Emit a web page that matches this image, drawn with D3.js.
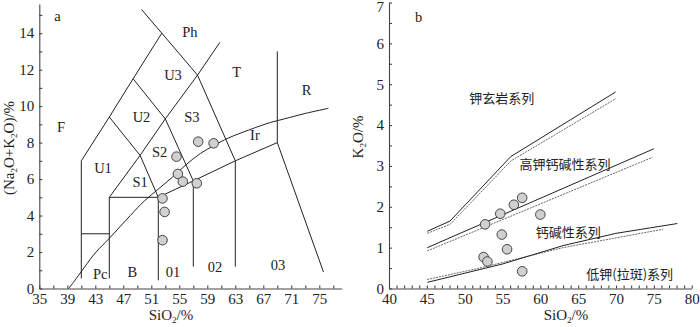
<!DOCTYPE html>
<html><head><meta charset="utf-8">
<script src="https://cdn.jsdelivr.net/npm/d3@7"></script>
<style>
body{margin:0;background:#fff;}
svg{display:block;}
text{font-family:"Liberation Serif","Times New Roman",serif;fill:#222;}
.cjk{font-family:"Noto Sans CJK SC",sans-serif;}
</style></head>
<body>
<script>
// ---- Chart a (TAS) data ----
const tasXTicks = [35,37,39,41,43,45,47,49,51,53,55,57,59,61,63,65,67,69,71,73,75,77];
const tasXLabels = [35,39,43,47,51,55,59,63,67,71,75];
const tasYTicks = [0,1,2,3,4,5,6,7,8,9,10,11,12,13,14,15];
const tasYLabels = [0,2,4,6,8,10,12,14];
const tasBoundaries = [
  [[41,0.55],[41,7],[45,9.4],[48.4,11.5],[52.5,14]],
  [[49.6,15.3],[52.5,14],[57.6,11.7],[63,7]],
  [[45,9.4],[49.4,7.3],[52,5]],
  [[48.4,11.5],[53,9.3],[57,5.9]],
  [[45,0.55],[45,5],[49.4,7.3],[53,9.3],[57.6,11.7],[60.8,13.5]],
  [[41,3],[45,3]],
  [[45,5],[52,5]],
  [[52,0.45],[52,5],[57,5.9],[63,7],[69,8]],
  [[57,1.2],[57,5.9]],
  [[63,1.2],[63,7]],
  [[69,13],[69,8],[75.6,0.9]]
];
const irvineCurve = [[39.2,0],[40,0.4],[43,1.95],[45,2.75],[48,4],[50,4.8],[52,5.45],[54,6.1],[56,6.8],[58,7.4],[60,7.85],[62,8.25],[65,8.7],[68,9.1],[70,9.3],[73,9.6],[76.3,9.88]];
const tasLabelNames = ["F","Ph","U3","T","R","U2","S3","Ir","S2","U1","S1","Pc","B","01","02","03"];
const tasLabelX = [38.1,56.5,54.1,63.2,73.2,49.6,56.8,65.8,52.2,44.1,49.4,43.7,48.3,54.1,60.1,69.1];
const tasLabelY = [8.87,14.05,11.7,11.9,10.9,9.4,9.4,8.4,7.5,6.6,5.85,0.8,0.9,0.9,1.2,1.3];
const tasSiO2 = [57.7,59.9,54.6,54.8,55.5,57.5,52.6,52.9,52.6];
const tasAlk  = [8.05,7.96,7.23,6.28,5.86,5.77,4.94,4.2,2.65];

// ---- Chart b (K2O-SiO2) data ----
const kXTicks = d3.range(40,81,1);
const kXLabels = [40,45,50,55,60,65,70,75,80];
const kYTicks = [0,0.5,1,1.5,2,2.5,3,3.5,4,4.5,5,5.5,6,6.5,7];
const kYLabels = [0,1,2,3,4,5,6,7];
const kSolidLines = [
  [[45.06,1.4],[48.06,1.65],[56.1,3.23],[69.95,4.81]],
  [[45.06,1.0],[75,3.42]],
  [[45.06,0.15],[55,0.6],[63,1.05],[70,1.35],[78.1,1.59]]
];
const kDashedLines = [
  [[45.06,1.35],[48.06,1.57],[56.1,3.12],[70,4.65]],
  [[45.06,0.92],[74.8,3.21]],
  [[45.06,0.22],[52,0.5],[63,1.0],[76.2,1.45]]
];
const kLabelNames = ["钾玄岩系列","高钾钙碱性系列","钙碱性系列","低钾(拉斑)系列"];
const kLabelX = [54.9,63.25,63.7,71.8];
const kLabelY = [4.64,3.03,1.37,0.35];
const kSiO2 = [52.7,54.7,56.5,57.6,60.0,54.9,55.6,52.5,53.0,57.6];
const kK2O  = [1.57,1.83,2.05,2.22,1.81,1.32,0.96,0.77,0.66,0.42];

const svg = d3.select("body").append("svg").attr("width",700).attr("height",327);

const axisColor = "#444";
function drawAxes(x, y, xt, xl, yt, yl, xPad, yPad) {
  const gx = svg.append("g").attr("transform",`translate(0,${y.range()[0]})`)
    .call(d3.axisBottom(x).tickValues(xt).tickSize(-3).tickSizeOuter(0).tickPadding(xPad)
      .tickFormat(d => xl.includes(d) ? d : ""));
  const gy = svg.append("g").attr("transform",`translate(${x.range()[0]},0)`)
    .call(d3.axisLeft(y).tickValues(yt).tickSize(-3).tickSizeOuter(0).tickPadding(yPad)
      .tickFormat(d => yl.includes(d) ? d : ""));
  [gx,gy].forEach(g=>{
    g.selectAll("path,line").attr("stroke",axisColor).attr("stroke-width",1.1);
    g.selectAll("text").attr("font-family","Liberation Serif, serif").attr("font-size",15).attr("fill","#222");
  });
  // keep a label that would sit on the top edge fully visible
  gy.selectAll(".tick text").each(function(){
    const yy = y(d3.select(this.parentNode).datum());
    if (yy < 7) d3.select(this).attr("transform",`translate(0,${7-yy})`);
  });
}

// ---- Chart a ----
const ax = d3.scaleLinear().domain([35,78.2]).range([39.3,341.7]);
const ay = d3.scaleLinear().domain([0,15.6]).range([288.5,4]);
drawAxes(ax, ay, tasXTicks, tasXLabels, tasYTicks, tasYLabels, 5, 5);

const lineA = d3.line().x(d=>ax(d[0])).y(d=>ay(d[1]));
svg.append("g").selectAll("path").data(tasBoundaries).join("path")
  .attr("d", lineA).attr("fill","none").attr("stroke","#222").attr("stroke-width",1);
svg.append("path").datum(irvineCurve)
  .attr("d", d3.line().x(d=>ax(d[0])).y(d=>ay(d[1])).curve(d3.curveCatmullRom))
  .attr("fill","none").attr("stroke","#222").attr("stroke-width",1);
svg.append("g").selectAll("text").data(tasLabelNames).join("text")
  .attr("x",(d,i)=>ax(tasLabelX[i])).attr("y",(d,i)=>ay(tasLabelY[i]))
  .attr("dy","0.35em").attr("text-anchor","middle").attr("font-size",14.5).text(d=>d);
svg.append("g").selectAll("circle").data(tasSiO2).join("circle")
  .attr("cx",d=>ax(d)).attr("cy",(d,i)=>ay(tasAlk[i])).attr("r",4.8)
  .attr("fill","#d0d0d0").attr("stroke","#333").attr("stroke-width",0.9);
svg.append("text").attr("x",ax(37.6)).attr("y",ay(14.95)).attr("dy","0.35em")
  .attr("text-anchor","middle").attr("font-size",14.5).text("a");

// ---- Chart b ----
const bx = d3.scaleLinear().domain([40,80]).range([389,691.7]);
const by = d3.scaleLinear().domain([0,7]).range([288.5,2.5]);
drawAxes(bx, by, kXTicks, kXLabels, kYTicks, kYLabels, 5, 5);

const lineB = d3.line().x(d=>bx(d[0])).y(d=>by(d[1]));
svg.append("g").selectAll("path").data(kDashedLines).join("path")
  .attr("d", lineB).attr("fill","none").attr("stroke","#555").attr("stroke-width",0.9)
  .attr("stroke-dasharray","2,1");
svg.append("g").selectAll("path").data(kSolidLines).join("path")
  .attr("d", lineB).attr("fill","none").attr("stroke","#222").attr("stroke-width",1);
svg.append("g").selectAll("text").data(kLabelNames).join("text")
  .attr("class","cjk")
  .attr("x",(d,i)=>bx(kLabelX[i])).attr("y",(d,i)=>by(kLabelY[i]))
  .attr("dy","0.35em").attr("text-anchor","middle").attr("font-size",13).text(d=>d);
svg.append("g").selectAll("circle").data(kSiO2).join("circle")
  .attr("cx",d=>bx(d)).attr("cy",(d,i)=>by(kK2O[i])).attr("r",4.8)
  .attr("fill","#d0d0d0").attr("stroke","#333").attr("stroke-width",0.9);
svg.append("text").attr("x",bx(43.9)).attr("y",by(6.65)).attr("dy","0.35em")
  .attr("text-anchor","middle").attr("font-size",14.5).text("b");

// ---- Axis titles with subscripts (x,y = baseline anchor point) ----
function subTitle(x, y, parts, rotate) {
  const t = svg.append("text").attr("text-anchor","middle").attr("font-size",15)
    .attr("transform",`translate(${x},${y})` + (rotate ? " rotate(-90)" : ""));
  parts.forEach(p=>{
    if (p.sub) t.append("tspan").attr("font-size",9).attr("dy",3).text(p.t);
    else t.append("tspan").attr("dy", p.after ? -3 : 0).text(p.t);
  });
}
subTitle(171, 320, [{t:"SiO"},{t:"2",sub:true},{t:"/%",after:true}], false);
subTitle(566, 320, [{t:"SiO"},{t:"2",sub:true},{t:"/%",after:true}], false);
subTitle(14, 148, [{t:"(Na"},{t:"2",sub:true},{t:"O+K",after:true},{t:"2",sub:true},{t:"O)/%",after:true}], true);
subTitle(363, 137, [{t:"K"},{t:"2",sub:true},{t:"O/%",after:true}], true);
</script>
</body></html>
